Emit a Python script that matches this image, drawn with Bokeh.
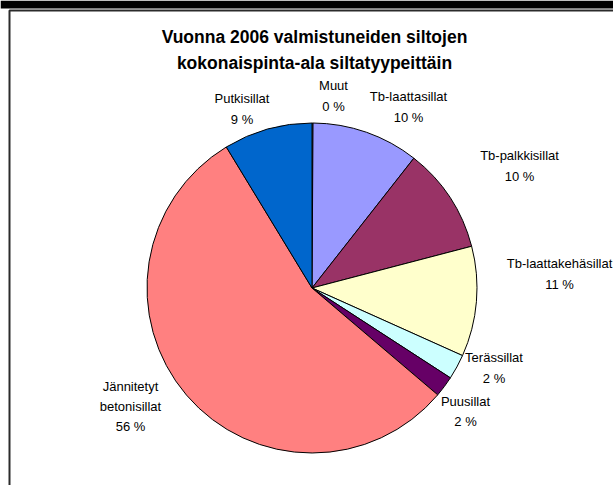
import math
from bokeh.plotting import figure
from bokeh.models import Range1d, ColumnDataSource
from bokeh.core.properties import value
from bokeh.embed import file_html
from bokeh.resources import INLINE

# ---- data (clockwise from 12 o'clock) ----
categories = ["Muut", "Tb-laattasillat", "Tb-palkkisillat", "Tb-laattakehäsillat",
              "Terässillat", "Puusillat", "Jännitetyt betonisillat", "Putkisillat"]
shares = [0.1, 10.5, 10.35, 10.8, 2.45, 2.05, 55.15, 8.7]
pct_labels = [0, 10, 10, 11, 2, 2, 56, 9]
colors = ["#FFFFFF", "#9999FF", "#993366", "#FFFFCC", "#CCFFFF", "#660066", "#FF8080", "#0066CC"]

# ---- layout (pixel coordinates, y measured downward) ----
W, H = 613, 485
CX, CY, R = 311.5, 287.5, 165
label_pos = [(333, 95.5), (408, 106.5), (519, 165.5), (559, 273.5),
             (493.5, 367.5), (465, 411), (130, 406), (241.5, 108.5)]

p = figure(width=W, height=H, output_backend="svg", toolbar_location=None,
           x_range=Range1d(0, W), y_range=Range1d(-H, 0),
           x_axis_type=None, y_axis_type=None, min_border=0)
p.grid.visible = False
p.outline_line_color = None
p.background_fill_color = "white"
p.border_fill_color = "white"
p.styles = {"position": "absolute", "left": "0px", "top": "0px"}

# frame decoration
p.quad(left=[0], right=[W], top=[0], bottom=[-8], color="black", line_color=None)
p.line(x=[9, 9, W], y=[-H, -10, -10], line_color="#2b2b2b", line_width=2)

total = sum(shares)
starts, ends, cum = [], [], 0.0
for s in shares:
    a0 = math.pi / 2 - 2 * math.pi * cum / total
    cum += s
    a1 = math.pi / 2 - 2 * math.pi * cum / total
    starts.append(a1)
    ends.append(a0)

src = ColumnDataSource(dict(cat=categories, start=starts, end=ends, color=colors,
                            x=[CX] * len(categories), y=[-CY] * len(categories)))
p.wedge(x="x", y="y", radius=R, start_angle="start", end_angle="end",
        fill_color="color", line_color="black", line_width=1, source=src)

names = [c.replace("Jännitetyt betonisillat", "Jännitetyt\nbetonisillat") for c in categories]
texts = [f"{n}\n{v} %" for n, v in zip(names, pct_labels)]
p.text(x=[lp[0] for lp in label_pos], y=[-lp[1] for lp in label_pos], text=texts,
       text_align="center", text_baseline="middle", text_font=value("Liberation Sans"),
       text_font_size="13px", text_line_height=1.35, text_color="black")

p.text(x=[314], y=[-49], text=["Vuonna 2006 valmistuneiden siltojen\nkokonaispinta-ala siltatyypeittäin"],
       text_align="center", text_baseline="middle", text_font=value("Liberation Sans"),
       text_font_size="17.5px", text_font_style="bold", text_line_height=1.3, text_color="black")

open("out.html", "w").write(file_html(p, INLINE))
